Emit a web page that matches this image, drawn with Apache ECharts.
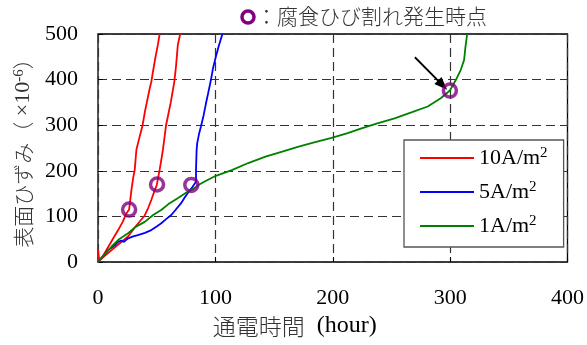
<!DOCTYPE html>
<html><head><meta charset="utf-8">
<script src="https://cdn.jsdelivr.net/npm/echarts@6/dist/echarts.min.js"></script>
<style>html,body{margin:0;padding:0;background:#fff}#c{width:587px;height:345px}</style>
</head><body><div id="c"></div>
<script>
const seriesNames = ['10A/m²', '5A/m²', '1A/m²'];
const xTicks = [0, 100, 200, 300, 400];
const yTicks = [0, 100, 200, 300, 400, 500];
const red1 = [[0,0],[0,28],[1,4],[4,12],[8.7,33],[13,52],[17.2,70],[21,88],[24.3,107],[26.5,115],[28.5,158],[30,185],[31.3,202],[32.7,246],[35,270],[38,300],[40,330],[42,355],[44,380],[45.4,395],[47,420],[49,450],[51,476],[52.5,500]];
const red2 = [[0,0],[5,12],[11.6,26],[18,40],[25.6,56],[32.7,80],[39.8,102],[43,120],[45.4,136],[48,155],[50,168],[51,172],[52.5,202],[54,225],[55.3,246],[58,300],[60,325],[62,350],[65,395],[66.5,430],[68,476],[70,500]];
const blue = [[0,0],[4,12],[8.7,26],[14,36],[17,44],[20,47],[22,44],[25.6,52],[30,56],[34,59],[40,64],[45.4,70],[50,78],[53.9,85],[58,94],[62.4,103],[66,114],[70.8,129],[74,142],[76.4,151],[80.6,165],[83.5,176],[83.5,202],[84,245],[84.5,260],[86,280],[87.7,297],[90,322],[92,348],[94,372],[96.2,399],[98,425],[100.4,450],[103,475],[106,500]];
const green = [[0,0],[5,15],[11.6,34],[18,50],[25.6,63],[32,77],[39.8,88],[47,103],[53.9,114],[60,127],[67.9,140],[75,152],[82,162],[86.3,170],[90.5,176],[100.4,189],[114.5,202],[128,217],[142.7,231],[157,242],[170.9,253],[185,263],[199,272],[212,282],[224.5,293],[238,304],[252.7,315],[267,328],[280.9,341],[292,359],[299.8,376],[304.8,399],[309,421],[311.9,443],[313,470],[314.5,500]];
const crackPoints = [[26.5,115],[50.3,170],[79.5,169],[299.8,376]];
const arrowLine = [[270,449],[293.5,388]];

const serif = 'Liberation Serif';
const jp = 'Noto Sans CJK JP';
const chart = echarts.init(document.getElementById('c'), null, {renderer: 'canvas'});
const lineSeries = (name, data, color) => ({
  type: 'line', name, data, showSymbol: false, symbol: 'none', clip: true,
  lineStyle: {color, width: 1.8}, itemStyle: {color}, z: 3, silent: true
});
chart.setOption({
  animation: false,
  grid: {left: 98, right: 16, top: 34, bottom: 83, show: true, borderColor: '#000', borderWidth: 1.3, backgroundColor: 'transparent'},
  xAxis: {
    type: 'value', min: xTicks[0], max: xTicks[xTicks.length-1], interval: 100,
    axisLine: {show: false}, axisTick: {show: true, inside: true, length: 5, lineStyle: {color: '#000'}},
    splitLine: {show: true, lineStyle: {color: '#333', type: [9,5], width: 1.2}},
    axisLabel: {fontFamily: serif, fontSize: 22, color: '#000', margin: 25},
    name: '{j|通電時間}{n|  (hour)}', nameLocation: 'middle', nameGap: 52,
    nameTextStyle: {padding: [0, 76, 0, 0], rich: {j: {fontFamily: jp, fontSize: 23, fontWeight: 300, color: '#333'}, n: {fontFamily: serif, fontSize: 24, color: '#000'}}}
  },
  yAxis: {
    type: 'value', min: yTicks[0], max: yTicks[yTicks.length-1], interval: 100,
    axisLine: {show: false}, axisTick: {show: true, inside: true, length: 5, lineStyle: {color: '#000'}},
    splitLine: {show: true, lineStyle: {color: '#333', type: [9,5], width: 1.2}},
    axisLabel: {fontFamily: serif, fontSize: 22, color: '#000', margin: 20},
    name: '{j|表面ひずみ（}{n| ×10}{p|-6}{j|）}', nameLocation: 'middle', nameGap: 64, nameRotate: 90,
    nameTextStyle: {rich: {j: {fontFamily: jp, fontSize: 21, fontWeight: 300, color: '#333'}, n: {fontFamily: serif, fontSize: 22, color: '#333'}, p: {fontFamily: serif, fontSize: 15, color: '#333', verticalAlign: 'top'}}}
  },
  legend: {
    data: seriesNames, orient: 'vertical', left: 404, top: 140,
    padding: [6, 16, 10, 16], itemGap: 11, itemWidth: 54, itemHeight: 2, icon: 'rect',
    backgroundColor: '#fff', borderColor: '#555', borderWidth: 1.3, borderRadius: 0,
    formatter: n => '{a|' + n.replace('²', '') + '}{s|2}',
    textStyle: {rich: {a: {fontFamily: serif, fontSize: 22, color: '#000', lineHeight: 24}, s: {fontFamily: serif, fontSize: 15, color: '#000', verticalAlign: 'top'}}},
    selectedMode: false, z: 10
  },
  series: [
    lineSeries(seriesNames[0], red1, '#ff0000'),
    lineSeries(seriesNames[0], red2, '#ff0000'),
    lineSeries(seriesNames[1], blue, '#0000ff'),
    lineSeries(seriesNames[2], green, '#008000'),
    {
      type: 'scatter', name: 'crack', data: crackPoints, symbol: 'circle', symbolSize: 13,
      itemStyle: {color: 'transparent', borderColor: '#800080', borderWidth: 3.5}, z: 5, silent: true,
      markLine: {
        silent: true, symbol: ['none', 'triangle'], symbolSize: [10, 13],
        lineStyle: {color: '#000', width: 1.8, type: 'solid'}, label: {show: false},
        data: [[{coord: arrowLine[0]}, {coord: arrowLine[1]}]]
      }
    }
  ],
  graphic: [
    {type: 'circle', shape: {cx: 248, cy: 17, r: 6}, style: {fill: 'none', stroke: '#800080', lineWidth: 3.5}},
    {type: 'text', left: 256, top: 6, style: {text: '：腐食ひび割れ発生時点', font: '300 21px "Noto Sans CJK JP"', fill: '#333'}}
  ]
});
</script></body></html>
